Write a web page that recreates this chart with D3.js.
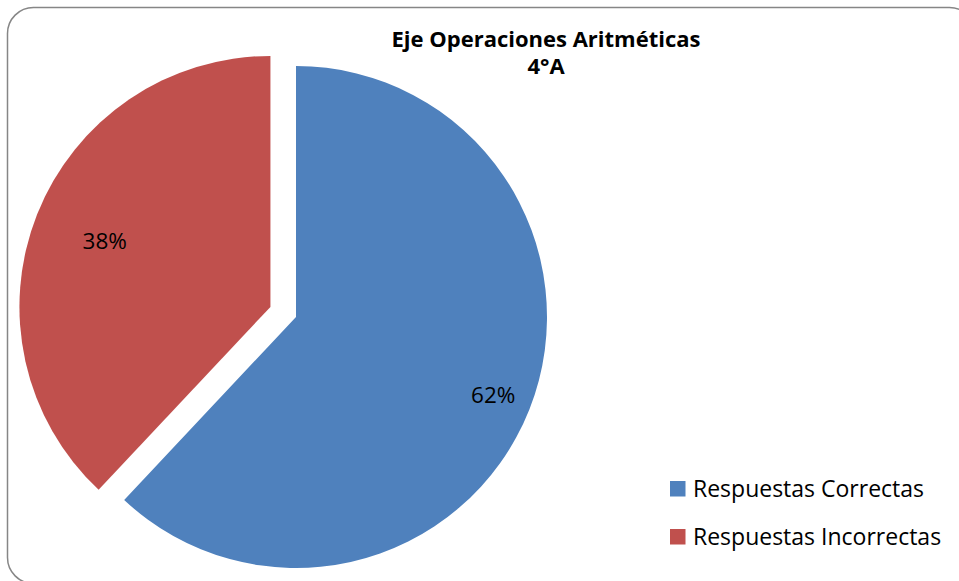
<!DOCTYPE html>
<html>
<head>
<meta charset="utf-8">
<script src="https://cdn.jsdelivr.net/npm/d3@7"></script>
<style>
  html, body { margin: 0; padding: 0; background: #fff; }
  svg { display: block; font-family: "Open Sans", Lato, sans-serif; }
</style>
</head>
<body>
<svg id="chart" width="959" height="581"></svg>
<script>
// Chart data
const categories = ["Respuestas Correctas", "Respuestas Incorrectas"];
const values = [62, 38];
const valueLabels = ["62%", "38%"];
const colors = ["#4F81BD", "#C0504D"];
const titleLines = ["Eje Operaciones Aritméticas", "4°A"];

const svg = d3.select("#chart");

// Outer chart-area frame with rounded corners
svg.append("rect")
  .attr("x", 7.5).attr("y", 7.5)
  .attr("width", 968).attr("height", 576)
  .attr("rx", 26).attr("ry", 26)
  .attr("fill", "#fff")
  .attr("stroke", "#868686")
  .attr("stroke-width", 1.5);

const cx = 296, cy = 317, radius = 251;
const explode = [0, 27.5];        // outward offset of each slice
const labelFactor = [0.845, 0.71]; // label distance as a fraction of the radius

const pie = d3.pie().sort(null).value(d => d)(values);
const arc = d3.arc().innerRadius(0).outerRadius(radius);

const g = svg.append("g").attr("transform", `translate(${cx},${cy})`);

const slices = g.selectAll("g.slice")
  .data(pie)
  .enter().append("g")
  .attr("class", "slice")
  .attr("transform", (d, i) => {
    const a = (d.startAngle + d.endAngle) / 2;
    return `translate(${Math.sin(a) * explode[i]},${-Math.cos(a) * explode[i]})`;
  });

slices.append("path")
  .attr("d", arc)
  .attr("fill", (d, i) => colors[i]);

slices.append("text")
  .attr("x", (d, i) => Math.sin((d.startAngle + d.endAngle) / 2) * radius * labelFactor[i])
  .attr("y", (d, i) => -Math.cos((d.startAngle + d.endAngle) / 2) * radius * labelFactor[i])
  .attr("text-anchor", "middle")
  .attr("dy", "0.35em")
  .attr("font-size", 22.5)
  .attr("fill", "#000")
  .text((d, i) => valueLabels[i]);

// Title (two centred lines in one text block)
const title = svg.append("text")
  .attr("x", 546).attr("y", 47)
  .attr("text-anchor", "middle")
  .attr("font-size", 22)
  .attr("font-weight", "bold")
  .attr("fill", "#000");
title.selectAll("tspan")
  .data(titleLines)
  .enter().append("tspan")
  .attr("x", 546)
  .attr("dy", (d, i) => i === 0 ? 0 : 27)
  .text(d => d);

// Legend
const legend = svg.append("g").attr("transform", "translate(670,481)");
const items = legend.selectAll("g")
  .data(categories)
  .enter().append("g")
  .attr("transform", (d, i) => `translate(0,${i * 48})`);
items.append("rect")
  .attr("width", 15.5).attr("height", 15.5)
  .attr("fill", (d, i) => colors[i]);
items.append("text")
  .attr("x", 23).attr("y", 15.5)
  .attr("font-size", 23)
  .attr("fill", "#000")
  .text(d => d);
</script>
</body>
</html>
